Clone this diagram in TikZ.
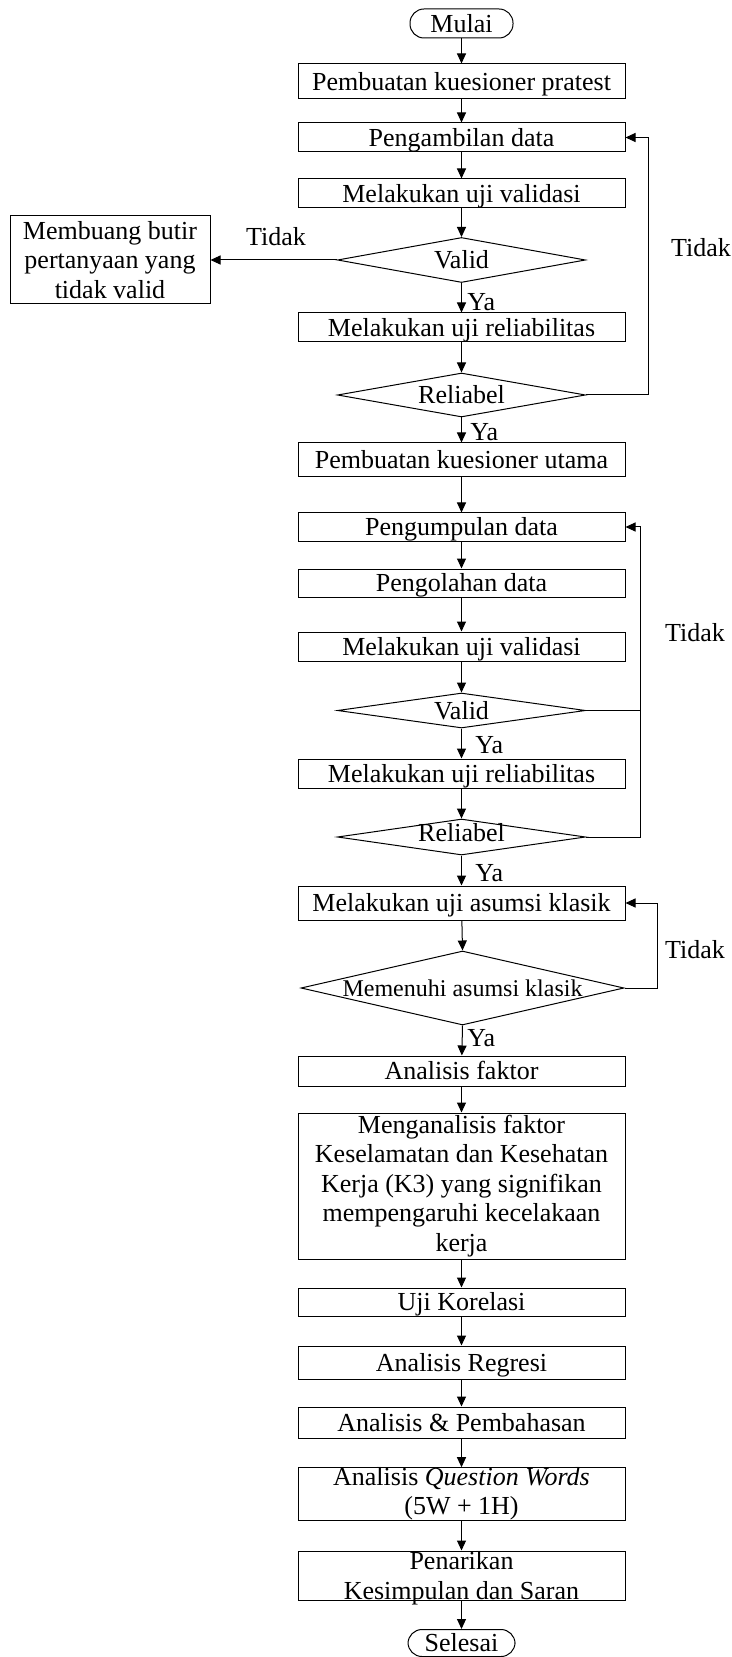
\documentclass[tikz,border=0pt]{standalone}
\usepackage{fontspec}
\setmainfont{Liberation Serif}
\usetikzlibrary{shapes.geometric,arrows.meta}
\begin{document}
\begin{tikzpicture}[x=0.5pt,y=-0.5pt,
  every node/.style={font=\fontsize{13}{14.75}\selectfont},
  mbox/.style={draw, line width=0.5pt, minimum width=163.5pt, inner sep=0pt, align=center},
  sbox/.style={mbox, text height=8.6pt, text depth=0pt},
  term/.style={draw, line width=0.5pt, rounded corners=7pt, inner sep=0pt, text height=8.6pt, text depth=0pt},
  dec/.style={draw, line width=0.5pt, diamond, inner sep=0pt, minimum width=124pt},
  lbl/.style={inner sep=0pt, text height=8.6pt, text depth=0pt},
  arr/.style={line width=0.5pt, -{Triangle[length=5pt,width=4.5pt]}},
  ln/.style={line width=0.5pt}]
\useasboundingbox (0,0) rectangle (732,1657);
\node[term, minimum width=51.5pt, minimum height=14.5pt] (start) at (461.5,23.5) {Mulai};
\node[sbox, minimum height=17.5pt] (b1) at (461.5,81.5) {Pembuatan kuesioner pratest};
\node[sbox, minimum height=14.5pt] (b2) at (461.5,137.5) {Pengambilan data};
\node[sbox, minimum height=14.5pt] (b3) at (461.5,193.5) {Melakukan uji validasi};
\node[dec, minimum height=22.5pt] (d1) at (461.5,260) {};
\node[lbl] at (d1) {Valid};
\node[mbox, minimum width=100pt, minimum height=44pt] (side) at (110,260) {Membuang butir\\pertanyaan yang\\tidak valid};
\node[sbox, minimum height=14.5pt] (b4) at (461.5,327.5) {Melakukan uji reliabilitas};
\node[dec, minimum height=22pt] (d2) at (461.5,395) {};
\node[lbl] at (d2) {Reliabel};
\node[sbox, minimum height=17pt] (b5) at (461.5,460) {Pembuatan kuesioner utama};
\node[sbox, minimum height=14pt] (b6) at (461.5,527) {Pengumpulan data};
\node[sbox, minimum height=14pt] (b7) at (461.5,583) {Pengolahan data};
\node[sbox, minimum height=14.5pt] (b8) at (461.5,646.5) {Melakukan uji validasi};
\node[dec, minimum height=17.5pt] (d3) at (461.5,710.5) {};
\node[lbl] at (d3) {Valid};
\node[sbox, minimum height=14.5pt] (b9) at (461.5,773.5) {Melakukan uji reliabilitas};
\node[dec, minimum height=18pt] (d4) at (461.5,837) {};
\node[lbl] at ([yshift=2pt]d4.center) {Reliabel};
\node[sbox, minimum height=17pt] (b10) at (461.5,903) {Melakukan uji asumsi klasik};
\node[dec, minimum width=161.5pt, minimum height=37pt] (d5) at (462.5,988) {};
\node[lbl, font=\fontsize{12}{14}\selectfont] at (d5) {Memenuhi asumsi klasik};
\node[sbox, minimum height=15pt] (b11) at (461.5,1071) {Analisis faktor};
\node[mbox, minimum height=73pt] (b12) at (461.5,1186) {Menganalisis faktor\\Keselamatan dan Kesehatan\\Kerja (K3) yang signifikan\\mempengaruhi kecelakaan\\kerja};
\node[sbox, minimum height=14pt] (b13) at (461.5,1302) {Uji Korelasi};
\node[sbox, minimum height=16.5pt] (b14) at (461.5,1362.5) {Analisis Regresi};
\node[sbox, minimum height=15.5pt] (b15) at (461.5,1422.5) {Analisis \& Pembahasan};
\node[mbox, minimum height=26pt, font=\fontsize{13}{14.5}\selectfont] (b16) at (461.5,1494) {Analisis \textit{Question Words}\\(5W + 1H)};
\node[mbox, minimum height=24.5pt, font=\fontsize{13}{15}\selectfont, text depth=0pt] (b17) at (461.5,1575.5) {Penarikan\\Kesimpulan dan Saran};
\node[term, minimum width=53.5pt, minimum height=13.5pt] (end) at (461.5,1643) {Selesai};
% labels
\node[lbl] (t1) at (276,237) {Tidak};
\node[lbl] (t2) at (701,248) {Tidak};
\node[lbl] (t3) at (695,633) {Tidak};
\node[lbl] (t4) at (695,950) {Tidak};
\node[lbl, anchor=west] (y1) at (467,302) {Ya};
\node[lbl, anchor=west] (y2) at (470,432) {Ya};
\node[lbl, anchor=west] (y3) at (475,745) {Ya};
\node[lbl, anchor=west] (y4) at (475,873) {Ya};
\node[lbl, anchor=west] (y5) at (467,1038) {Ya};
% vertical arrows
\draw[arr] (start) -- (b1);
\draw[arr] (b1) -- (b2);
\draw[arr] (b2) -- (b3);
\draw[arr] (b3) -- (d1);
\draw[arr] (d1) -- (b4);
\draw[arr] (b4) -- (d2);
\draw[arr] (d2) -- (b5);
\draw[arr] (b5) -- (b6);
\draw[arr] (b6) -- (b7);
\draw[arr] (b7) -- (b8);
\draw[arr] (b8) -- (d3);
\draw[arr] (d3) -- (b9);
\draw[arr] (b9) -- (d4);
\draw[arr] (d4) -- (b10);
\draw[arr] (b10) -- (d5.north);
\draw[arr] (d5.south) -- (b11);
\draw[arr] (b11) -- (b12);
\draw[arr] (b12) -- (b13);
\draw[arr] (b13) -- (b14);
\draw[arr] (b14) -- (b15);
\draw[arr] (b15) -- (b16);
\draw[arr] (b16) -- (b17);
\draw[arr] (b17) -- (end);
% side branch
\draw[arr] (d1.west) -- (side.east);
% loops
\draw[arr] (d2.east) -- ++(62.5,0) |- (b2.east);
\draw[ln] (d3.east) -- ++(54.5,0);
\draw[arr] (d4.east) -- ++(54.5,0) |- (b6.east);
\draw[arr] (d5.east) -- ++(32.5,0) |- (b10.east);
\end{tikzpicture}
\end{document}
